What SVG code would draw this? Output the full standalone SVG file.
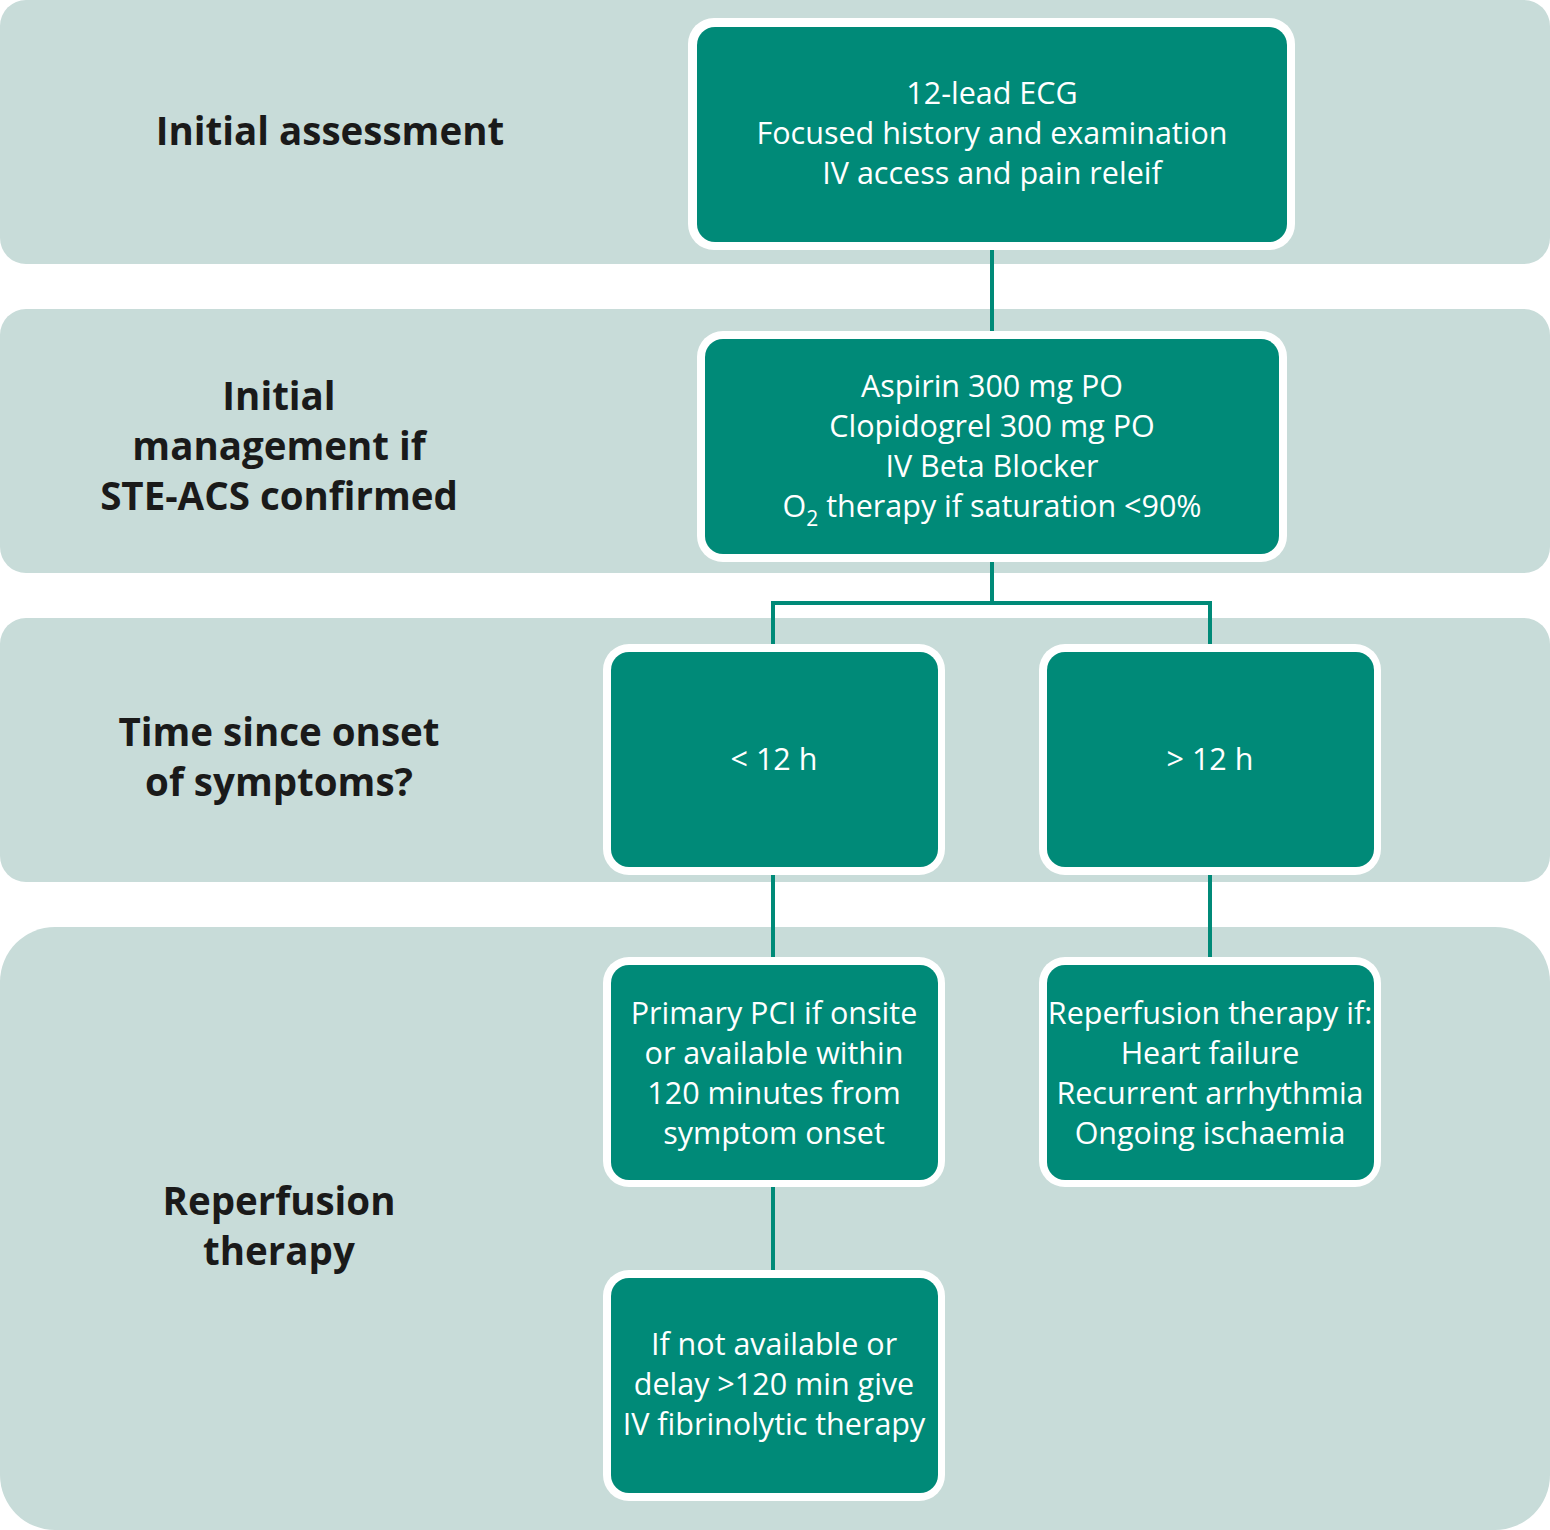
<svg xmlns="http://www.w3.org/2000/svg" width="1550" height="1530" viewBox="0 0 1550 1530">
<style>
.band{fill:#c8dcd9}
.outer{fill:#ffffff}
.box{fill:#008a78}
.t{font-family:"Open Sans","Liberation Sans",sans-serif;font-size:30.5px;fill:#ffffff;text-anchor:middle}
.lbl{font-family:"Open Sans","Liberation Sans",sans-serif;font-size:38.5px;font-weight:bold;fill:#1a1a1a;text-anchor:middle}
.conn{stroke:#008a78;stroke-width:4;fill:none}
</style>
<rect width="1550" height="1530" fill="#ffffff"/>
<g id="bands">
<rect class="band" x="0" y="0" width="1550" height="264" rx="26"/>
<rect class="band" x="0" y="309" width="1550" height="264" rx="26"/>
<rect class="band" x="0" y="618" width="1550" height="264" rx="26"/>
<rect class="band" x="0" y="927" width="1550" height="603" rx="55"/>
</g>
<g id="labels">
<text class="lbl" x="330" y="145">Initial assessment</text>
<text class="lbl" x="279" y="410">Initial</text>
<text class="lbl" x="279" y="460">management if</text>
<text class="lbl" x="279" y="510">STE-ACS confirmed</text>
<text class="lbl" x="279" y="746">Time since onset</text>
<text class="lbl" x="279" y="796">of symptoms?</text>
<text class="lbl" x="279" y="1215">Reperfusion</text>
<text class="lbl" x="279" y="1265">therapy</text>
</g>
<g id="connectors">
<line class="conn" x1="992" y1="248" x2="992" y2="332"/>
<polyline class="conn" points="992,561 992,603 773,603 773,645"/>
<polyline class="conn" points="992,603 1210,603 1210,645"/>
<line class="conn" x1="773" y1="874" x2="773" y2="958"/>
<line class="conn" x1="1210" y1="874" x2="1210" y2="958"/>
<line class="conn" x1="773" y1="1186" x2="773" y2="1271"/>
</g>
<g id="n1">
<rect class="outer" x="688" y="18" width="607" height="232" rx="26"/>
<rect class="box" x="697" y="27" width="590" height="215" rx="18"/>
<text class="t" x="992" y="104">12-lead ECG</text>
<text class="t" x="992" y="144">Focused history and examination</text>
<text class="t" x="992" y="184">IV access and pain releif</text>
</g>
<g id="n2">
<rect class="outer" x="697" y="331" width="590" height="231" rx="26"/>
<rect class="box" x="705" y="339" width="574" height="215" rx="18"/>
<text class="t" x="992" y="397">Aspirin 300 mg PO</text>
<text class="t" x="992" y="437">Clopidogrel 300 mg PO</text>
<text class="t" x="992" y="477">IV Beta Blocker</text>
<text class="t" x="992" y="517">O<tspan font-size="21" dy="9">2</tspan><tspan dy="-9"> therapy if saturation &lt;90%</tspan></text>
</g>
<g id="n3">
<rect class="outer" x="603" y="644" width="342" height="231" rx="26"/>
<rect class="box" x="611" y="652" width="327" height="215" rx="18"/>
<text class="t" x="774" y="770">&lt; 12 h</text>
</g>
<g id="n4">
<rect class="outer" x="1039" y="644" width="342" height="231" rx="26"/>
<rect class="box" x="1047" y="652" width="327" height="215" rx="18"/>
<text class="t" x="1210" y="770">&gt; 12 h</text>
</g>
<g id="n5">
<rect class="outer" x="603" y="957" width="342" height="230" rx="26"/>
<rect class="box" x="611" y="965" width="327" height="215" rx="18"/>
<text class="t" x="774" y="1024">Primary PCI if onsite</text>
<text class="t" x="774" y="1064">or available within</text>
<text class="t" x="774" y="1104">120 minutes from</text>
<text class="t" x="774" y="1144">symptom onset</text>
</g>
<g id="n6">
<rect class="outer" x="1039" y="957" width="342" height="230" rx="26"/>
<rect class="box" x="1047" y="965" width="327" height="215" rx="18"/>
<text class="t" x="1210" y="1024">Reperfusion therapy if:</text>
<text class="t" x="1210" y="1064">Heart failure</text>
<text class="t" x="1210" y="1104">Recurrent arrhythmia</text>
<text class="t" x="1210" y="1144">Ongoing ischaemia</text>
</g>
<g id="n7">
<rect class="outer" x="603" y="1270" width="342" height="231" rx="26"/>
<rect class="box" x="611" y="1278" width="327" height="215" rx="18"/>
<text class="t" x="774" y="1355">If not available or</text>
<text class="t" x="774" y="1395">delay &gt;120 min give</text>
<text class="t" x="774" y="1435">IV fibrinolytic therapy</text>
</g>
</svg>
